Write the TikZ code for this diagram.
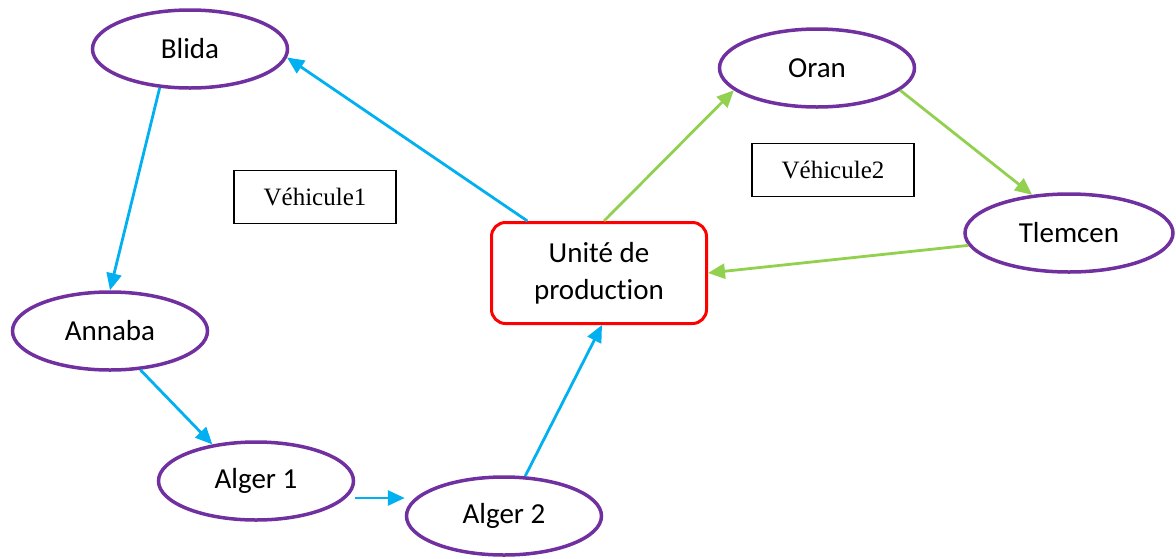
\documentclass[tikz,border=0pt]{standalone}
\usepackage{fontspec}
\setmainfont{Carlito}[Ligatures=NoCommon]
\newfontfamily\timesfont{Liberation Serif}
\usetikzlibrary{shapes.geometric,arrows.meta}
\definecolor{villepurple}{HTML}{7030A0}
\definecolor{routeblue}{HTML}{00B0F0}
\definecolor{routegreen}{HTML}{92D050}
\definecolor{unitred}{HTML}{FF0000}

\begin{document}
\begin{tikzpicture}[x=1pt, y=-1pt, every node/.style={font=\fontsize{29}{37}\selectfont},
        ville/.style={ellipse, draw=villepurple, line width=3.5pt, minimum width=195pt, minimum height=78pt, inner sep=0pt},
        usine/.style={draw=unitred, line width=3pt, rounded corners=14pt, minimum width=215pt, minimum height=101pt, align=center},
        vehicule/.style={draw, line width=1.5pt, minimum width=162pt, minimum height=53pt, font=\timesfont\fontsize{25}{30}\selectfont},
        bluearrow/.style={draw=routeblue, line width=2.8pt, -{Triangle[length=17pt,width=15pt]}},
        greenarrow/.style={draw=routegreen, line width=2.8pt, -{Triangle[length=17pt,width=15pt]}}]
        \useasboundingbox (0,0) rectangle (1176,558);

        % Production unit
        \node[usine] (unit) at (599,273) {Unité de\\production};

        % Cities
        \node[ville] (blida) at (190,49) {Blida};
        \node[ville] (annaba) at (110,331) {Annaba};
        \node[ville] (alger1) at (256,481) {Alger 1};
        \node[ville] (alger2) at (504,516) {Alger 2};
        \node[ville] (oran) at (817,68) {Oran};
        \node[ville, minimum width=208pt] (tlemcen) at (1069,233) {Tlemcen};

        % Vehicle labels
        \node[vehicule] (veh1) at (315,197) {Véhicule1\hspace{10pt}};
        \node[vehicule] (veh2) at (833,170) {Véhicule2\hspace{10pt}};

        % Tour of vehicle 1 (blue)
        \draw[bluearrow] (unit.144) -- (blida.-5);
        \draw[bluearrow] (blida.-128) -- (annaba.north);
        \draw[bluearrow] (annaba.-52) -- (alger1.140);
        \draw[bluearrow] ([yshift=-17pt]alger1.east) -- ([yshift=18pt]alger2.west);
        \draw[bluearrow] (alger2.62) -- ([xshift=3pt]unit.south);

        % Tour of vehicle 2 (green)
        \draw[greenarrow] ([xshift=5pt]unit.north) -- (oran.-165);
        \draw[greenarrow] (oran.-15) -- (tlemcen.134);
        \draw[greenarrow] (tlemcen.-173) -- (unit.east);
    \end{tikzpicture}
\end{document}
